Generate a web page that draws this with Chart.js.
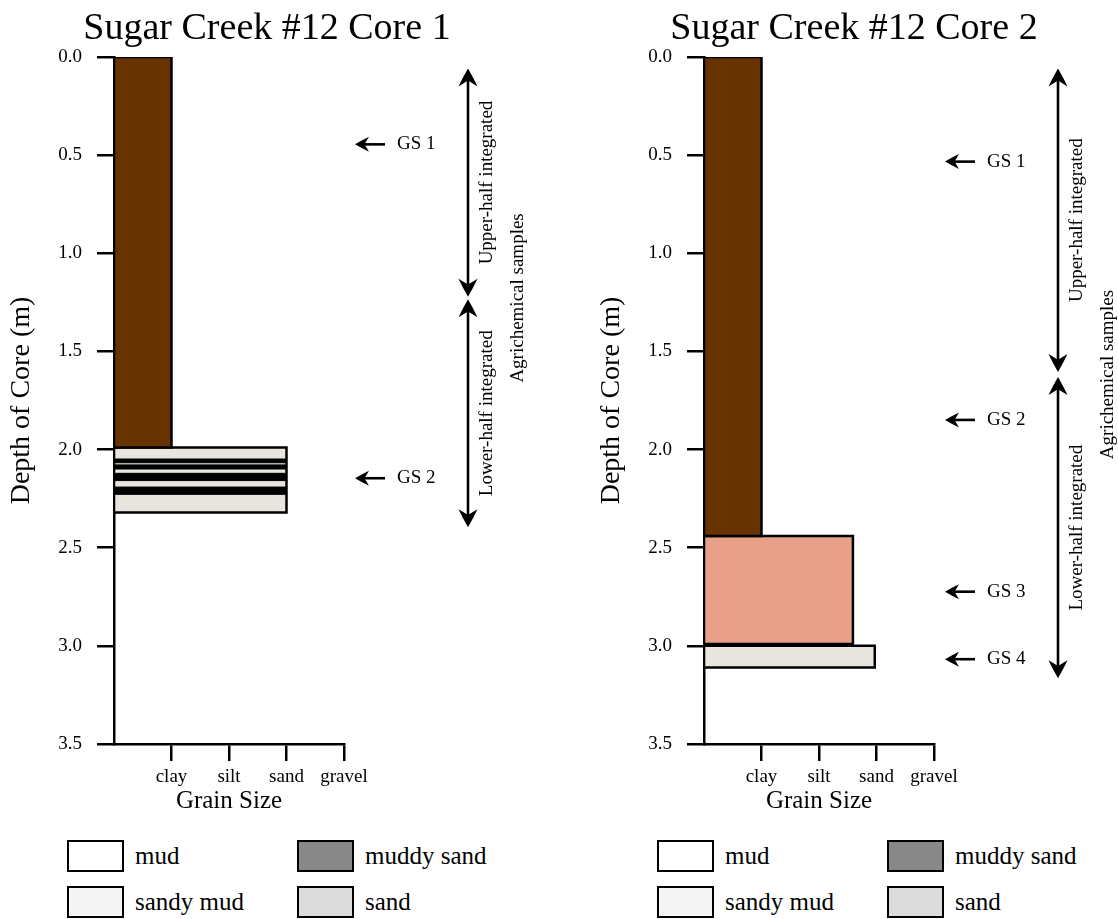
<!DOCTYPE html>
<html>
<head>
<meta charset="utf-8">
<title>Sugar Creek #12 cores</title>
<script src="https://cdn.jsdelivr.net/npm/chart.js@4.4.1/dist/chart.umd.min.js"></script>
<style>
  html, body { margin: 0; padding: 0; background: #fff; }
  body { width: 1118px; height: 919px; position: relative; overflow: hidden;
         font-family: "Liberation Serif", "Times New Roman", serif; color: #000; }
  .core { position: absolute; top: 0; height: 919px; }
  canvas { display: block; }
  .key { position: absolute; display: flex; align-items: center; height: 32px; white-space: nowrap; }
  .swatch { width: 53px; height: 28px; border: 2px solid #000; flex: none; }
  .key span { font-size: 25px; margin-left: 11px; line-height: 32px; }
</style>
</head>
<body>
<div class="core" id="core1" style="left:0px;width:534px"><canvas id="chart1" width="534" height="830"></canvas></div>
<div class="core" id="core2" style="left:590px;width:528px"><canvas id="chart2" width="528" height="830"></canvas></div>
<script>
const FONT = '"Liberation Serif", "Times New Roman", serif';

// Axes
const grainTickValues = [1, 2, 3, 4];
const grainLabels = ['clay', 'silt', 'sand', 'gravel'];
const depthTickValues = [0, 0.5, 1, 1.5, 2, 2.5, 3, 3.5];
const depthTickLabels = ['0.0', '0.5', '1.0', '1.5', '2.0', '2.5', '3.0', '3.5'];

// Core 1 layers (depth in m, grain size in class units)
const core1Tops = [0, 1.99];
const core1Bottoms = [1.99, 2.32];
const core1Grain = [1.0, 3.0];
const core1Colors = ['#663300', '#e8e4de'];
// Core 1 thin dark laminae inside the sandy-mud layer
const core1StripeTops = [2.048, 2.078, 2.121, 2.191];
const core1StripeBottoms = [2.067, 2.099, 2.158, 2.228];
const core1StripeGrain = 3.0;
// Core 1 sample notes
const core1GsLabels = ['GS 1', 'GS 2'];
const core1GsDepths = [0.445, 2.146];
const core1UpperSpan = [0.058, 1.221];
const core1LowerSpan = [1.234, 2.396];

// Core 2 layers
const core2Tops = [0, 2.44, 3.0];
const core2Bottoms = [2.44, 2.99, 3.11];
const core2Grain = [1.0, 2.59, 2.97];
const core2Colors = ['#663300', '#e8a088', '#e8e4de'];
// Core 2 sample notes
const core2GsLabels = ['GS 1', 'GS 2', 'GS 3', 'GS 4'];
const core2GsDepths = [0.533, 1.849, 2.724, 3.068];
const core2UpperSpan = [0.058, 1.605];
const core2LowerSpan = [1.63, 3.165];

// Legend
const legendNames = ['mud', 'muddy sand', 'sandy mud', 'sand'];
const legendColors = ['#ffffff', '#888888', '#f5f5f5', '#dcdcdc'];

// Closed outline of one layer, traced through the chart's x/y scales.
function layerOutline(top, bottom, grain) {
  return [
    {x: 0, y: top}, {x: grain, y: top}, {x: grain, y: bottom},
    {x: 0, y: bottom}, {x: 0, y: top}
  ];
}

function layerDataset(top, bottom, grain, color, width, order) {
  return {
    data: layerOutline(top, bottom, grain),
    xAxisID: 'x', yAxisID: 'y',
    fill: 'shape',
    backgroundColor: color,
    borderColor: '#000',
    borderWidth: width,
    borderJoinStyle: 'miter',
    pointRadius: 0,
    tension: 0,
    order: order
  };
}

function arrowHead(ctx, x, y, angle, len, half) {
  ctx.save();
  ctx.translate(x, y);
  ctx.rotate(angle);
  ctx.beginPath();
  ctx.moveTo(0, 0);
  ctx.quadraticCurveTo(-len * 0.5, half * 0.55, -len, half);
  ctx.lineTo(-len * 0.68, 0);
  ctx.lineTo(-len, -half);
  ctx.quadraticCurveTo(-len * 0.5, -half * 0.55, 0, 0);
  ctx.closePath();
  ctx.fill();
  ctx.restore();
}

function verticalArrow(ctx, x, y1, y2) {
  const len = 18, half = 9.5;
  ctx.beginPath();
  ctx.moveTo(x, y1 + len * 0.6);
  ctx.lineTo(x, y2 - len * 0.6);
  ctx.stroke();
  arrowHead(ctx, x, y1, -Math.PI / 2, len, half);
  arrowHead(ctx, x, y2, Math.PI / 2, len, half);
}

function rotatedText(ctx, text, x, y) {
  ctx.save();
  ctx.translate(x, y);
  ctx.rotate(-Math.PI / 2);
  ctx.textAlign = 'center';
  ctx.textBaseline = 'middle';
  ctx.fillText(text, 0, 0);
  ctx.restore();
}

// Sample markers and integrated-sample ranges to the right of the plot
function notesPlugin(gsLabels, gsDepths, upperSpan, lowerSpan) {
  return {
    id: 'coreNotes',
    afterDraw(chart) {
      const {ctx, chartArea} = chart;
      const y = chart.scales.y;
      const r = chartArea.right;
      ctx.save();
      ctx.fillStyle = '#000';
      ctx.strokeStyle = '#000';
      ctx.lineWidth = 2.6;
      ctx.font = '19px ' + FONT;
      ctx.textBaseline = 'middle';
      ctx.textAlign = 'left';
      gsDepths.forEach((d, i) => {
        const py = y.getPixelForValue(d);
        ctx.beginPath();
        ctx.moveTo(r + 18, py);
        ctx.lineTo(r + 41, py);
        ctx.stroke();
        arrowHead(ctx, r + 11, py, Math.PI, 14, 7.5);
        ctx.fillText(gsLabels[i], r + 53, py);
      });
      const ax = r + 124;
      const u1 = y.getPixelForValue(upperSpan[0]), u2 = y.getPixelForValue(upperSpan[1]);
      const l1 = y.getPixelForValue(lowerSpan[0]), l2 = y.getPixelForValue(lowerSpan[1]);
      verticalArrow(ctx, ax, u1, u2);
      verticalArrow(ctx, ax, l1, l2);
      rotatedText(ctx, 'Upper-half integrated', r + 143, (u1 + u2) / 2);
      rotatedText(ctx, 'Lower-half integrated', r + 143, (l1 + l2) / 2);
      rotatedText(ctx, 'Agrichemical samples', r + 174, (u2 + l1) / 2);
      ctx.restore();
    }
  };
}

function axisGrid() {
  return { display: true, drawOnChartArea: false, drawTicks: true, tickLength: 17, color: '#000', lineWidth: 2.5 };
}

function buildCore(canvasId, title, tops, bottoms, grain, colors, stripeTops, stripeBottoms, stripeGrain, notes, padRight) {
  const datasets = [];
  stripeTops.forEach((t, i) => datasets.push(layerDataset(t, stripeBottoms[i], stripeGrain, '#000', 1, 0)));
  tops.forEach((t, i) => datasets.push(layerDataset(t, bottoms[i], grain[i], colors[i], 2.5, 1)));

  return new Chart(document.getElementById(canvasId), {
    type: 'line',
    data: { datasets },
    options: {
      responsive: false,
      devicePixelRatio: 1,
      animation: false,
      events: [],
      layout: { padding: 0 },
      plugins: {
        legend: { display: false },
        tooltip: { enabled: false },
        title: {
          display: true, text: title, color: '#000',
          font: { family: FONT, size: 38, weight: 'normal', lineHeight: 1.2 },
          padding: { top: 6, bottom: 5.4 }
        }
      },
      scales: {
        x: {
          type: 'linear', min: 0, max: 4,
          afterBuildTicks: s => { s.ticks = grainTickValues.map(v => ({ value: v })); },
          afterFit: s => { s.height = 86; },
          grid: axisGrid(),
          border: { display: true, color: '#000', width: 2.5 },
          ticks: {
            color: '#000', font: { family: FONT, size: 19 }, padding: 5,
            autoSkip: false, maxRotation: 0,
            callback: v => grainLabels[grainTickValues.indexOf(v)]
          },
          title: {
            display: true, text: 'Grain Size', color: '#000',
            font: { family: FONT, size: 25 }, padding: { top: 0, bottom: 14 }
          }
        },
        y: {
          type: 'linear', reverse: true, min: 0, max: 3.5,
          afterBuildTicks: s => { s.ticks = depthTickValues.map(v => ({ value: v })); },
          afterFit: s => { s.width = 114; },
          grid: axisGrid(),
          border: { display: true, color: '#000', width: 2.5 },
          ticks: {
            color: '#000', font: { family: FONT, size: 19 }, padding: 15,
            callback: (v, i) => depthTickLabels[i]
          },
          title: {
            display: true, text: 'Depth of Core (m)', color: '#000',
            font: { family: FONT, size: 28 }, padding: { top: 5, bottom: 0 }
          }
        },
        notes: {
          type: 'linear', position: 'right', display: true,
          grid: { display: false }, ticks: { display: false }, border: { display: false },
          afterFit: s => { s.width = padRight; }
        }
      }
    },
    plugins: [notesPlugin(notes.labels, notes.depths, notes.upper, notes.lower)]
  });
}

function buildLegend(containerId) {
  const box = document.getElementById(containerId);
  const cols = [67, 297], rows = [840, 886];
  legendNames.forEach((name, i) => {
    const key = document.createElement('div');
    key.className = 'key';
    key.style.left = cols[i % 2] + 'px';
    key.style.top = rows[Math.floor(i / 2)] + 'px';
    const sw = document.createElement('div');
    sw.className = 'swatch';
    sw.style.background = legendColors[i];
    const label = document.createElement('span');
    label.textContent = name;
    key.appendChild(sw);
    key.appendChild(label);
    box.appendChild(key);
  });
}

buildCore('chart1', 'Sugar Creek #12 Core 1', core1Tops, core1Bottoms, core1Grain, core1Colors,
  core1StripeTops, core1StripeBottoms, core1StripeGrain,
  { labels: core1GsLabels, depths: core1GsDepths, upper: core1UpperSpan, lower: core1LowerSpan }, 190);
buildCore('chart2', 'Sugar Creek #12 Core 2', core2Tops, core2Bottoms, core2Grain, core2Colors,
  [], [], 0,
  { labels: core2GsLabels, depths: core2GsDepths, upper: core2UpperSpan, lower: core2LowerSpan }, 184);
buildLegend('core1');
buildLegend('core2');
</script>
</body>
</html>
